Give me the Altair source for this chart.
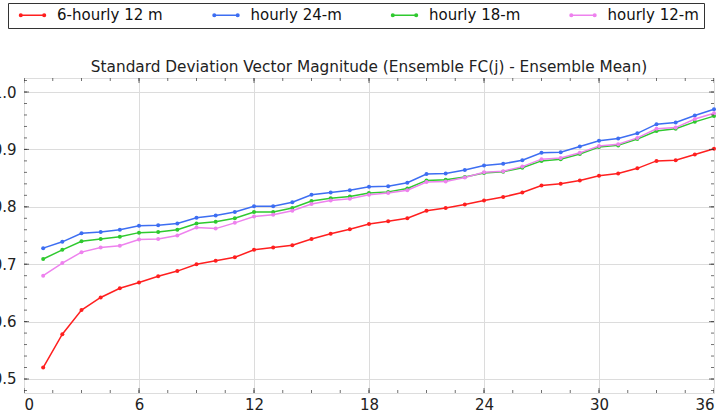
import altair as alt
import pandas as pd

# ---- data ----
steps = list(range(1, 37))
series_names = ["6-hourly 12 m", "hourly 24-m", "hourly 18-m", "hourly 12-m"]
series_colors = ["#ff1f1f", "#3d6ef2", "#2fc92f", "#ee82ee"]

red_6h_12m = [0.520, 0.578, 0.620, 0.642, 0.658, 0.668, 0.679, 0.688, 0.700, 0.706,
              0.712, 0.725, 0.729, 0.733, 0.744, 0.753, 0.761, 0.770, 0.775, 0.780,
              0.793, 0.798, 0.804, 0.811, 0.817, 0.825, 0.837, 0.840, 0.846, 0.854,
              0.858, 0.867, 0.880, 0.881, 0.891, 0.901]
blue_1h_24m = [0.728, 0.739, 0.754, 0.756, 0.760, 0.767, 0.768, 0.771, 0.781, 0.785,
               0.791, 0.801, 0.801, 0.808, 0.821, 0.825, 0.829, 0.835, 0.836, 0.842,
               0.857, 0.858, 0.864, 0.872, 0.875, 0.881, 0.894, 0.895, 0.905, 0.915,
               0.919, 0.928, 0.944, 0.947, 0.959, 0.970]
green_1h_18m = [0.709, 0.725, 0.740, 0.744, 0.748, 0.755, 0.756, 0.760, 0.771, 0.774,
                0.780, 0.791, 0.791, 0.798, 0.810, 0.815, 0.818, 0.824, 0.826, 0.832,
                0.846, 0.847, 0.852, 0.859, 0.861, 0.868, 0.880, 0.883, 0.892, 0.904,
                0.907, 0.918, 0.932, 0.936, 0.948, 0.958]
pink_1h_12m = [0.680, 0.702, 0.721, 0.729, 0.732, 0.743, 0.744, 0.750, 0.764, 0.762,
               0.772, 0.783, 0.786, 0.793, 0.805, 0.811, 0.814, 0.821, 0.824, 0.829,
               0.843, 0.844, 0.851, 0.860, 0.862, 0.870, 0.883, 0.885, 0.894, 0.906,
               0.909, 0.920, 0.936, 0.938, 0.953, 0.963]

x_major = [0, 6, 12, 18, 24, 30, 36]
y_major = [0.5, 0.6, 0.7, 0.8, 0.9, 1.0]
x_minor = [i * 1.5 for i in range(25)]
y_minor = [round(0.48 + 0.02 * i, 2) for i in range(28)]

title_text = "Standard Deviation Vector Magnitude (Ensemble FC(j) - Ensemble Mean)"

# ---- build table ----
rows = []
for name, vals in zip(series_names, [red_6h_12m, blue_1h_24m, green_1h_18m, pink_1h_12m]):
    for s, v in zip(steps, vals):
        rows.append({"step": s, "value": v, "series": name})
df = pd.DataFrame(rows)

W, H = 690, 315
FONT = "DejaVu Sans"
xs = alt.Scale(domain=[0, 36], nice=False, zero=False)
ys = alt.Scale(domain=[0.4756, 1.0244], nice=False, zero=False)

x_axis = alt.Axis(
    values=x_major, grid=True, ticks=False, domain=False, title=None,
    labelFontSize=15, labelFont=FONT, labelColor="#222", labelPadding=4,
    gridColor="#dcdcdc", gridWidth=1)
y_axis = alt.Axis(
    values=y_major, format=".1f", grid=True, ticks=False, domain=False, title=None,
    labelFontSize=15, labelFont=FONT, labelColor="#222", labelPadding=8,
    gridColor="#dcdcdc", gridWidth=1)

legend_path = ("M-0.1,0L5.1,0"
               "M-0.1,0A0.26,0.26,0,1,1,0.42,0A0.26,0.26,0,1,1,-0.1,0Z"
               "M4.58,0A0.26,0.26,0,1,1,5.1,0A0.26,0.26,0,1,1,4.58,0Z")

color = alt.Color(
    "series:N",
    sort=series_names,
    scale=alt.Scale(domain=series_names, range=series_colors),
    legend=alt.Legend(
        title=None, orient="none", legendX=-16, legendY=-75,
        direction="horizontal", columns=4,
        symbolType=legend_path, symbolSize=100, symbolStrokeWidth=1.5,
        labelFontSize=15, labelFont=FONT, labelColor="#111",
        labelOffset=29.5, columnPadding=42.5, padding=4.5,
        strokeColor="#333", fillColor="white", cornerRadius=0,
    ),
)

lines = alt.Chart(df).mark_line(strokeWidth=1.5).encode(
    x=alt.X("step:Q", scale=xs, axis=x_axis),
    y=alt.Y("value:Q", scale=ys, axis=y_axis),
    color=color,
)

points = alt.Chart(df).mark_circle(size=16, opacity=1).encode(
    x=alt.X("step:Q", scale=xs, axis=x_axis),
    y=alt.Y("value:Q", scale=ys, axis=y_axis),
    color=color,
)

xmaj = pd.DataFrame({"step": x_major})
xmin = pd.DataFrame({"step": x_minor})
ymaj = pd.DataFrame({"value": y_major})
ymin = pd.DataFrame({"value": y_minor})

tick_layers = []
for d, sz in [(xmaj, 10), (xmin, 6)]:
    for yv in [0, H]:
        tick_layers.append(
            alt.Chart(d).mark_tick(size=sz, thickness=1, color="#333", clip=True).encode(
                x=alt.X("step:Q", scale=xs, axis=x_axis), y=alt.value(yv)))
for d, sz in [(ymaj, 10), (ymin, 6)]:
    for xv in [0, W]:
        tick_layers.append(
            alt.Chart(d).mark_tick(size=sz, thickness=1, color="#333", clip=True).encode(
                y=alt.Y("value:Q", scale=ys, axis=y_axis), x=alt.value(xv)))

chart = alt.layer(lines, points, *tick_layers).properties(
    width=W, height=H,
    title=alt.TitleParams(title_text, fontSize=15.3, font=FONT, fontWeight="normal",
                          color="#222", offset=5, anchor="middle", dy=78),
    padding={"left": 24, "top": 78, "right": 10, "bottom": 23},
    autosize="none",
).configure_view(stroke="#222", strokeWidth=1.3).configure(font=FONT)

chart.save("out.html", embed_options={"renderer": "svg", "actions": False})
